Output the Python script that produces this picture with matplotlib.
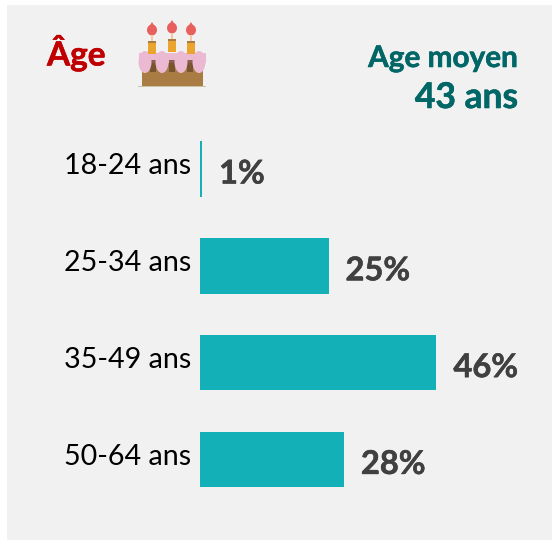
import matplotlib
matplotlib.use("Agg")
import matplotlib.pyplot as plt
import matplotlib.patheffects as pe
from matplotlib.patches import Rectangle, Ellipse, Polygon
from matplotlib.transforms import ScaledTranslation

# data
categories = ["18-24 ans", "25-34 ans", "35-49 ans", "50-64 ans"]
values = [0.4, 25, 46, 28]
value_labels = ["1%", "25%", "46%", "28%"]
mean_title = "Age moyen"
mean_value = "43 ans"

W, H = 552, 540
plt.rcParams["font.family"] = ["Lato", "DejaVu Sans"]

fig = plt.figure(figsize=(W / 100, H / 100), dpi=100, facecolor="white")


def heavy(color):
    # Lato bold is a bit lighter than the reference text
    return [pe.withStroke(linewidth=0.4, foreground=color)]


# grey panel and cake drawn in pixel coordinates
bg = fig.add_axes([0, 0, 1, 1])
bg.set_xlim(0, W)
bg.set_ylim(H, 0)
bg.axis("off")
bg.add_patch(Rectangle((7, 5), W - 7, H - 5, color="#F1F1F1", lw=0))

######################################################
# cake icon
bg.add_patch(Rectangle((142, 62), 61, 24, color="#A87C42", lw=0))
bg.add_patch(Rectangle((138, 85.5), 68, 1.5, color="#C9C2A0", lw=0))
bg.add_patch(Rectangle((139, 53), 67, 10, color="#EBBAD2", lw=0))
for cx in [153, 172, 190]:
    bg.add_patch(Rectangle((cx - 3, 60), 6, 12, color="#6E4A2C", alpha=0.8, lw=0))
for cx in [145, 162, 181, 199]:
    bg.add_patch(Ellipse((cx, 62), 13, 22, color="#EBBAD2", lw=0))
for cx, top in [(152, 41), (172, 39), (191, 41)]:
    bg.add_patch(Rectangle((cx - 4, top), 8, 13, color="#EBA52E", lw=0))
    bg.add_patch(Rectangle((cx - 4, top), 8, 2, color="#A87C42", lw=0))
    bg.add_patch(Ellipse((cx, top - 11), 10, 11, color="#E8605E", lw=0))
    bg.add_patch(Polygon([(cx - 3, top - 14), (cx + 3, top - 14), (cx, top - 19)], color="#E8605E", lw=0))
    bg.add_patch(Rectangle((cx - 1, top - 6), 2, 6, color="#F4C9A0", lw=0))

######################################################
# bars: x=0 sits at pixel 200, 5.14 px per point, rows 96.8 px apart
left = 200
ax = fig.add_axes([left / W, 0, 1 - left / W, 1])
ax.patch.set_visible(False)
ypos = list(range(len(categories)))
ax.barh(ypos, values, height=0.575, color="#14B0B8", linewidth=0)
ax.set_xlim(0, (W - left) / 5.14)
ax.set_ylim((H - 169) / 96.8, -169 / 96.8)
ax.set_yticks(ypos)
ax.set_yticklabels(categories, fontsize=20.6, color="black")
ax.tick_params(axis="y", length=0, pad=6.5)
ax.set_xticks([])
for s in ax.spines.values():
    s.set_visible(False)
shift = ScaledTranslation(0, 5 / 100, fig.dpi_scale_trans)
for lab in ax.get_yticklabels():
    lab.set_transform(lab.get_transform() + shift)

for y, v, t in zip(ypos, values, value_labels):
    ax.annotate(t, (v, y), xytext=(17, -5), textcoords="offset pixels", va="center", ha="left",
                fontsize=23.5, fontweight="bold", color="#404040", path_effects=heavy("#404040"))

######################################################
bg.text(47, 53, "Âge", fontsize=24, fontweight="bold", color="#C00000", va="center", ha="left",
        path_effects=heavy("#C00000"))
bg.text(518, 58, mean_title, fontsize=21.4, fontweight="bold", color="#006666", va="center", ha="right",
        path_effects=heavy("#006666"))
bg.text(518, 98, mean_value, fontsize=25.5, fontweight="bold", color="#006666", va="center", ha="right",
        path_effects=heavy("#006666"))

fig.savefig("out.png", dpi=100)
